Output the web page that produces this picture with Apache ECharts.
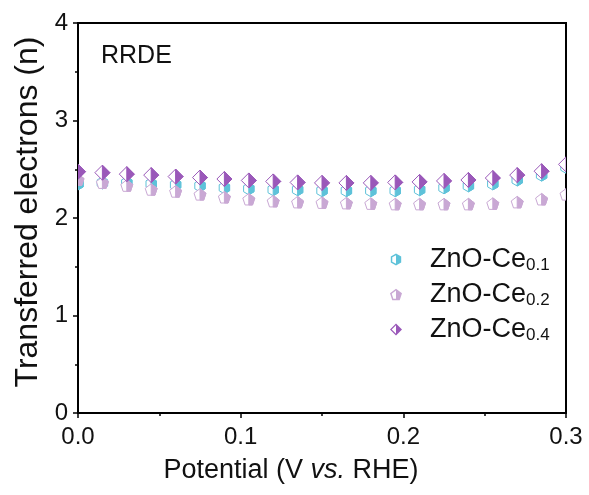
<!DOCTYPE html>
<html>
<head>
<meta charset="utf-8">
<script src="https://cdn.jsdelivr.net/npm/echarts@6/dist/echarts.min.js"></script>
<style>html,body{margin:0;padding:0;background:#fff;}#c{width:589px;height:495px;}</style>
</head>
<body>
<div id="c"></div>
<script>
// ---- data ----
const potential = [0, 0.015, 0.03, 0.045, 0.06, 0.075, 0.09, 0.105, 0.12, 0.135, 0.15, 0.165, 0.18, 0.195, 0.21, 0.225, 0.24, 0.255, 0.27, 0.285, 0.3];
const ce01 = [2.35, 2.36, 2.36, 2.35, 2.34, 2.33, 2.31, 2.30, 2.29, 2.29, 2.28, 2.28, 2.28, 2.28, 2.29, 2.31, 2.33, 2.35, 2.39, 2.44, 2.52];
const ce02 = [2.39, 2.36, 2.33, 2.29, 2.27, 2.24, 2.21, 2.19, 2.17, 2.16, 2.155, 2.15, 2.145, 2.14, 2.14, 2.14, 2.14, 2.145, 2.16, 2.19, 2.24];
const ce04 = [2.475, 2.465, 2.45, 2.44, 2.425, 2.415, 2.40, 2.385, 2.375, 2.365, 2.36, 2.36, 2.36, 2.365, 2.37, 2.38, 2.39, 2.41, 2.44, 2.48, 2.55];
const seriesNames = ['ZnO-Ce0.1', 'ZnO-Ce0.2', 'ZnO-Ce0.4'];
const xTicks = [0, 0.1, 0.2, 0.3];
const yTicks = [0, 1, 2, 3, 4];

// ---- marker shapes (px offsets from centre) ----
const shapes = {
  hex: {
    outline: [[0,-6],[5.2,-3],[5.2,3],[0,6],[-5.2,3],[-5.2,-3]],
    half: [[0,-6],[5.2,-3],[5.2,3],[0,6]],
    hole: [[0,-6],[-5.2,-3],[-5.2,3],[0,6]]
  },
  pent: {
    outline: [[0,-6],[6,-1.4],[3.7,5.5],[-3.7,5.5],[-6,-1.4]],
    half: [[0,-6],[6,-1.4],[3.7,5.5],[0,5.5]],
    hole: [[0,-6],[-6,-1.4],[-3.7,5.5],[0,5.5]]
  },
  dia: {
    outline: [[0,-7.5],[7.5,0],[0,7.5],[-7.5,0]],
    half: [[0,-7.5],[7.5,0],[0,7.5]],
    hole: [[0,-7.5],[-7.5,0],[0,7.5]]
  }
};
const colors = ['#5ec2d9', '#c9a8d4', '#9a58b9'];
const shapeKeys = ['hex', 'pent', 'dia'];
const datasets = [ce01, ce02, ce04];

function iconPath(sh) {
  const f = 10;
  const pt = p => (p[0]*f).toFixed(1) + ' ' + (p[1]*f).toFixed(1);
  let d = 'path://M' + sh.outline.map(pt).join(' L') + ' Z';
  const s = 0.72;
  d += ' M' + sh.hole.map(p => pt([p[0]*s, p[1]*s])).join(' L') + ' Z';
  return d;
}

function makeSeries(i) {
  const sh = shapes[shapeKeys[i]];
  const col = colors[i];
  return {
    name: seriesNames[i],
    type: 'custom',
    clip: true,
    itemStyle: { color: col },
    data: potential.map((x, k) => [x, datasets[i][k]]),
    renderItem: function (params, api) {
      const c = api.coord([api.value(0), api.value(1)]);
      const mv = arr => arr.map(p => [c[0] + p[0], c[1] + p[1]]);
      return {
        type: 'group',
        children: [
          { type: 'polygon', shape: { points: mv(sh.outline) }, style: { fill: '#fff', stroke: col, lineWidth: 1 } },
          { type: 'polygon', shape: { points: mv(sh.half) }, style: { fill: col, stroke: col, lineWidth: 1 } }
        ]
      };
    }
  };
}

const chart = echarts.init(document.getElementById('c'), null, { renderer: 'canvas' });
const font = 'Liberation Sans, Arial, sans-serif';
chart.setOption({
  backgroundColor: '#fff',
  animation: false,
  textStyle: { fontFamily: font },
  title: {
    text: 'RRDE', left: 96, top: 39,
    textStyle: { fontFamily: font, fontSize: 25, fontWeight: 'normal', color: '#111' }
  },
  grid: { left: 78, right: 23, top: 23, bottom: 82, show: true, borderColor: '#000', borderWidth: 2, backgroundColor: 'transparent' },
  legend: {
    orient: 'vertical', left: 385, top: 240,
    itemWidth: 12, itemHeight: 12, itemGap: 6,
    data: seriesNames.map((n, i) => ({ name: n, icon: iconPath(shapes[shapeKeys[i]]) })),
    formatter: function (n) {
      return '{a|' + n.slice(0, 6) + '}{b|' + n.slice(6) + '}';
    },
    textStyle: {
      fontFamily: font, color: '#111', padding: [0, 0, 0, 23],
      rich: {
        a: { fontFamily: font, fontSize: 27, color: '#111', lineHeight: 29 },
        b: { fontFamily: font, fontSize: 17, color: '#111', lineHeight: 29, verticalAlign: 'bottom', padding: [12, 0, 0, 0] }
      }
    }
  },
  xAxis: {
    type: 'value', min: 0, max: 0.3, interval: 0.1,
    name: '{n|Potential (V }{i|vs.}{n| RHE)}', nameLocation: 'middle', nameGap: 44,
    nameTextStyle: {
      padding: [0, 62, 0, 0],
      rich: {
        n: { fontFamily: font, fontSize: 27, color: '#111' },
        i: { fontFamily: font, fontSize: 27, color: '#111', fontStyle: 'italic' }
      }
    },
    axisLine: { show: true, lineStyle: { color: '#000', width: 2 } },
    axisTick: { show: true, length: 5, inside: false, lineStyle: { color: '#000', width: 1.5 } },
    minorTick: { show: true, splitNumber: 2, length: 3, lineStyle: { color: '#000', width: 1.5 } },
    splitLine: { show: false },
    axisLabel: {
      fontFamily: font, fontSize: 24, color: '#111', margin: 12,
      formatter: v => v.toFixed(1)
    }
  },
  yAxis: {
    type: 'value', min: 0, max: 4, interval: 1,
    name: 'Transferred electrons (n)', nameLocation: 'middle', nameGap: 33,
    nameTextStyle: { fontFamily: font, fontSize: 32, color: '#111', padding: [0, 0, 0, 12] },
    axisLine: { show: true, lineStyle: { color: '#000', width: 2 } },
    axisTick: { show: true, length: 5, inside: false, lineStyle: { color: '#000', width: 1.5 } },
    minorTick: { show: true, splitNumber: 2, length: 3, lineStyle: { color: '#000', width: 1.5 } },
    splitLine: { show: false },
    axisLabel: { fontFamily: font, fontSize: 24, color: '#111', margin: 10 }
  },
  series: [0, 1, 2].map(makeSeries)
});
</script>
</body>
</html>
